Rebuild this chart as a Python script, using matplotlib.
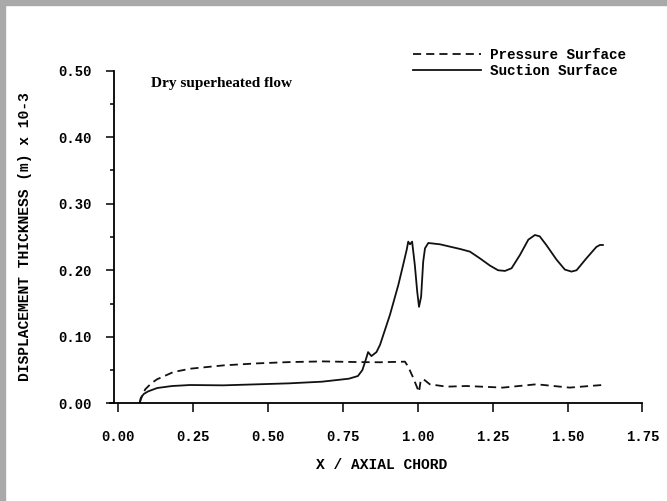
import numpy as np
import matplotlib
matplotlib.use("Agg")
from matplotlib import pyplot as plt
from matplotlib.ticker import MultipleLocator

# values
x_suction = [0.071, 0.075, 0.085, 0.10, 0.13, 0.18, 0.24, 0.35, 0.46, 0.57, 0.68,
             0.77, 0.80, 0.815, 0.828, 0.834, 0.845, 0.862, 0.874, 0.907, 0.935,
             0.951, 0.963, 0.968, 0.974, 0.981, 0.99, 0.998, 1.004, 1.011, 1.018,
             1.024, 1.035, 1.074, 1.141, 1.174, 1.207, 1.241, 1.268, 1.291, 1.313,
             1.341, 1.369, 1.391, 1.407, 1.429, 1.463, 1.491, 1.513, 1.530, 1.563,
             1.596, 1.608, 1.618]
y_suction = [0.0, 0.008, 0.014, 0.018, 0.023, 0.026, 0.0275, 0.027, 0.0285, 0.030, 0.0325,
             0.037, 0.041, 0.050, 0.068, 0.077, 0.071, 0.077, 0.088, 0.133, 0.178,
             0.208, 0.231, 0.243, 0.239, 0.243, 0.208, 0.168, 0.145, 0.160, 0.213,
             0.233, 0.241, 0.239, 0.232, 0.228, 0.218, 0.207, 0.200, 0.199, 0.203,
             0.223, 0.246, 0.253, 0.251, 0.238, 0.216, 0.201, 0.198, 0.200, 0.218,
             0.235, 0.238, 0.238]

x_pressure = [0.071, 0.08, 0.09, 0.11, 0.129, 0.184, 0.24, 0.351, 0.462, 0.573, 0.684,
              0.796, 0.874, 0.957, 0.968, 0.985, 1.001, 1.004, 1.009, 1.018, 1.04,
              1.096, 1.162, 1.284, 1.396, 1.507, 1.618]
y_pressure = [0.0, 0.012, 0.021, 0.030, 0.036, 0.047, 0.052, 0.057, 0.060, 0.062, 0.063,
              0.062, 0.0617, 0.0626, 0.055, 0.038, 0.020, 0.017, 0.0325, 0.0366, 0.0286,
              0.025, 0.026, 0.0236, 0.0286, 0.0236, 0.0276]

x_ticks = [0.0, 0.25, 0.5, 0.75, 1.0, 1.25, 1.5, 1.75]
y_ticks = [0.0, 0.1, 0.2, 0.3, 0.4, 0.5]

mono = "Liberation Mono"

fig = plt.figure(figsize=(6.67, 5.01), dpi=100)
ax = fig.add_axes([0.1652, 0.195, 0.798, 0.6639])

ax.plot(x_pressure, y_pressure, color="#111111", lw=1.3, dashes=(4.5, 2.8),
        label="Pressure Surface")
ax.plot(x_suction, y_suction, color="#111111", lw=1.3, label="Suction Surface")

ax.set_xlim(-0.027, 1.75)
ax.set_ylim(0, 0.5)
ax.spines["top"].set_visible(False)
ax.spines["right"].set_visible(False)
ax.spines["left"].set_position(("data", -0.0134))
for s in ("left", "bottom"):
    ax.spines[s].set_linewidth(1.3)

ax.set_xticks(x_ticks)
ax.set_xticklabels(["%.2f" % v for v in x_ticks])
ax.set_yticks(y_ticks)
ax.set_yticklabels(["%.2f" % v for v in y_ticks])
ax.yaxis.set_minor_locator(MultipleLocator(0.05))
ax.tick_params(axis="x", direction="out", length=6.5, width=1.1, pad=13)
ax.tick_params(axis="y", which="major", direction="out", length=6, width=1.1, pad=10)
ax.tick_params(axis="y", which="minor", direction="out", length=3, width=1.1)
for lab in ax.get_xticklabels() + ax.get_yticklabels():
    lab.set_fontfamily(mono)
    lab.set_fontweight("bold")
    lab.set_fontsize(10)

ax.set_xlabel("X / AXIAL CHORD", fontfamily=mono, fontweight="bold", fontsize=10.5)
ax.set_ylabel("DISPLACEMENT THICKNESS (m) x 10-3", fontfamily=mono,
              fontweight="bold", fontsize=10.5)
ax.xaxis.set_label_coords(0.51, -0.165)
ax.yaxis.set_label_coords(-0.147, 0.5)

ax.text(0.108, 0.481, "Dry superheated flow", fontfamily="Liberation Serif",
        fontweight="bold", fontsize=11, va="center", ha="left")

leg = ax.legend(loc="upper left", bbox_to_anchor=(0.5995, 0.93),
                bbox_transform=fig.transFigure, frameon=False, handlelength=4.8,
                handletextpad=0.6, labelspacing=0.15,
                prop={"family": mono, "weight": "bold", "size": 10.3})

# grey scan frame on the top and left edges
fig.patches.append(plt.Rectangle((0, 0), 5 / 667, 1, transform=fig.transFigure,
                                 color="#a9a9a9", zorder=0))
fig.patches.append(plt.Rectangle((0, 1 - 5 / 501), 1, 5 / 501, transform=fig.transFigure,
                                 color="#a9a9a9", zorder=0))

fig.savefig("out.png", dpi=100)
